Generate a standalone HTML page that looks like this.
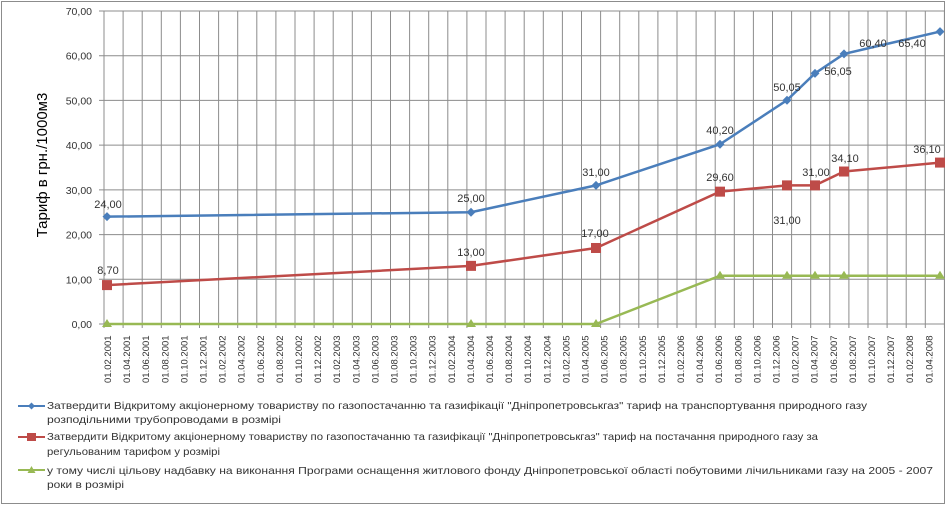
<!DOCTYPE html>
<html><head><meta charset="utf-8"><style>
html,body{margin:0;padding:0;background:#fff;}
svg{display:block;}
text{font-family:"Liberation Sans",sans-serif;}
</style></head><body>
<svg width="947" height="506" viewBox="0 0 947 506" xmlns="http://www.w3.org/2000/svg">
<rect x="1.5" y="1.5" width="943" height="502" fill="#fff" stroke="#8c8c8c" stroke-width="1"/>
<g id="grid" stroke="#8c8c8c" stroke-width="1"></g>
<g id="ylab" font-size="10.5" fill="#333" text-anchor="end"></g>
<text transform="translate(47,165) rotate(-90)" font-size="15" text-anchor="middle" fill="#000">Тариф в грн./1000м3</text>
<g id="xlab" font-size="9.5" fill="#333"></g>
<g id="series"></g>
<g font-size="10.5" fill="#333">
<line x1="18" y1="406" x2="45" y2="406" stroke="#4a7ebb" stroke-width="2"/>
<path d="M31.5 402.5 L35 406 L31.5 409.5 L28 406Z" fill="#4a7ebb"/>
<text x="47" y="409" textLength="820" lengthAdjust="spacingAndGlyphs">Затвердити Відкритому акціонерному товариству  по газопостачанню та газифікації "Дніпропетровськгаз" тариф на транспортування природного газу</text>
<text x="47" y="423" textLength="234" lengthAdjust="spacingAndGlyphs">розподільними трубопроводами  в розмірі</text>
<line x1="18" y1="437" x2="45" y2="437" stroke="#be4b48" stroke-width="2"/>
<rect x="27" y="433" width="9" height="8" fill="#be4b48"/>
<text x="47" y="440" textLength="771" lengthAdjust="spacingAndGlyphs">Затвердити Відкритому акціонерному товариству  по газопостачанню та газифікації "Дніпропетровськгаз" тариф на постачання природного газу за</text>
<text x="47" y="455" textLength="173" lengthAdjust="spacingAndGlyphs">регульованим тарифом у розмірі</text>
<line x1="18" y1="470" x2="45" y2="470" stroke="#98b954" stroke-width="2"/>
<path d="M31.5 466 L35.5 473 L27.5 473Z" fill="#98b954"/>
<text x="47" y="474" textLength="886" lengthAdjust="spacingAndGlyphs">у тому числі цільову надбавку  на виконання  Програми оснащення житлового фонду Дніпропетровської області побутовими лічильниками  газу на 2005 - 2007</text>
<text x="47" y="488" textLength="77" lengthAdjust="spacingAndGlyphs">роки в розмірі</text>
</g>
</svg>
<script>
const NS="http://www.w3.org/2000/svg";
function el(p,t,a,txt){const e=document.createElementNS(NS,t);for(const k in a)e.setAttribute(k,a[k]);if(txt!==undefined)e.textContent=txt;p.appendChild(e);return e;}
const g=document.getElementById('grid'),yl=document.getElementById('ylab'),xl=document.getElementById('xlab'),s=document.getElementById('series');
const Y=v=>324-v*313/70;
for(let k=0;k<=7;k++){const y=Y(k*10);el(g,'line',{x1:99,x2:944,y1:y,y2:y});el(yl,'text',{x:92,y:y+4},(k*10).toFixed(2).replace('.',','));}
for(let k=0;k<=44;k++){const x=104+19.1*k;el(g,'line',{x1:x,x2:x,y1:11,y2:328});}
let m=2,yr=2001;
for(let k=0;k<44;k++){const x=107.5+19.1*k;const lab='01.'+String(m).padStart(2,'0')+'.'+yr;
el(xl,'text',{transform:`translate(${x+3.5},383) rotate(-90)`},lab);m+=2;if(m>12){m-=12;yr++;}}
const X=[107,471,596,720,787,815,844,940];
const blue=[24,25,31,40.2,50.05,56.05,60.4,65.4],red=[8.7,13,17,29.6,31,31,34.1,36.1],green=[0,0,0,10.8,10.8,10.8,10.8,10.8];
function line(d,c){el(s,'polyline',{points:d.map((v,i)=>X[i]+','+Y(v)).join(' '),fill:'none',stroke:c,'stroke-width':2.5});}
line(green,'#98b954');line(red,'#be4b48');line(blue,'#4a7ebb');
green.forEach((v,i)=>{const x=X[i],y=Y(v);el(s,'path',{d:`M${x} ${y-5}L${x+5} ${y+3}L${x-5} ${y+3}Z`,fill:'#98b954'});});
red.forEach((v,i)=>{const x=X[i],y=Y(v);el(s,'rect',{x:x-5,y:y-5,width:10,height:10,fill:'#be4b48'});});
blue.forEach((v,i)=>{const x=X[i],y=Y(v);el(s,'path',{d:`M${x} ${y-4.5}L${x+4.5} ${y}L${x} ${y+4.5}L${x-4.5} ${y}Z`,fill:'#4a7ebb'});});
const L=[[108,208,'24,00'],[471,202,'25,00'],[596,176,'31,00'],[720,134,'40,20'],[787,91,'50,05'],[838,75,'56,05'],[873,47,'60,40'],[912,47,'65,40'],
[108,274,'8,70'],[471,256,'13,00'],[595,237,'17,00'],[720,181,'29,60'],[816,176,'31,00'],[845,162,'34,10'],[927,153,'36,10'],[787,224,'31,00']];
L.forEach(([x,y,t])=>el(s,'text',{x:x,y:y,'font-size':11,'text-anchor':'middle',fill:'#333'},t));
</script>
</body></html>
